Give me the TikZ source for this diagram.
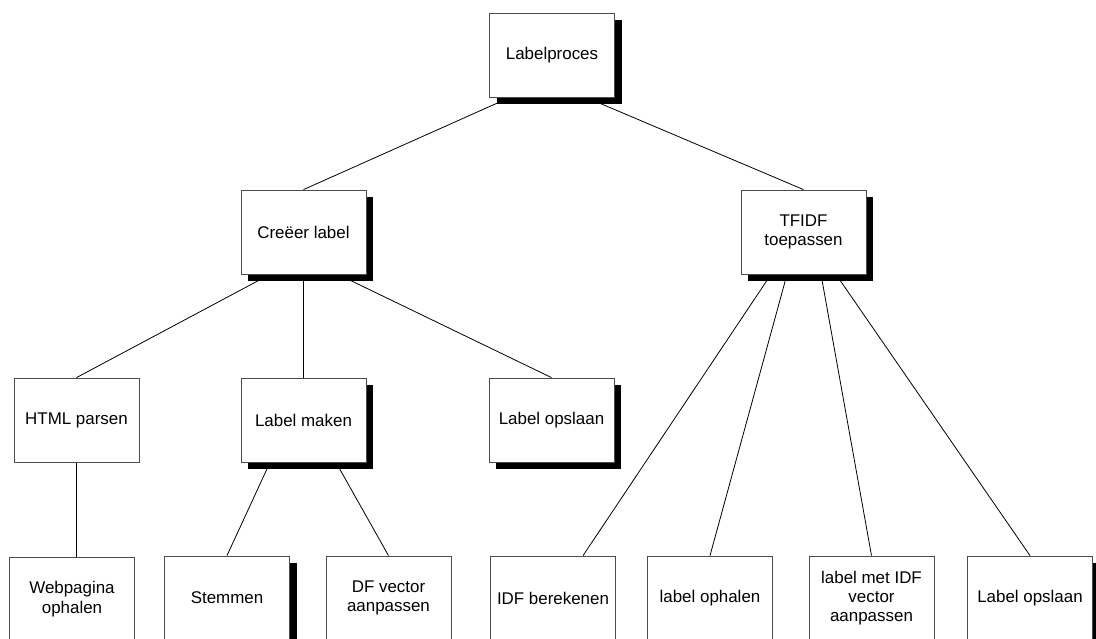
\documentclass[tikz,border=0pt]{standalone}
\usepackage{fontspec}
\setmainfont{Liberation Sans}
\usetikzlibrary{calc,shadows,backgrounds}

\begin{document}
\begin{tikzpicture}[x=0.75pt,y=-0.75pt,
  box/.style={draw=black!70, line width=0.6pt, fill=white,
    minimum width=93.75pt, minimum height=63pt, inner sep=2pt,
    align=center, font=\fontsize{12.7}{14.5}\selectfont},
  shadowed/.style={drop shadow={shadow xshift=5.25pt, shadow yshift=-5.25pt,
    fill=black, opacity=1}},
  link/.style={draw=black, line width=0.6pt}]
\useasboundingbox (0,0) rectangle (1096,639);
\clip (0,0) rectangle (1096,639);

% top level
\node[box,shadowed] (lp) at (552,55) {Labelproces};

% second level
\node[box,shadowed] (cl) at (303.5,232) {Creëer label};
\node[box,shadowed] (tf) at (803.5,232) {TFIDF\\toepassen};

% third level
\node[box] (html) at (76.5,420) {HTML parsen};
\node[box,shadowed] (lm) at (303.5,420) {Label maken};
\node[box,shadowed] (lo) at (551.5,420) {Label opslaan};

% leaves
\node[box] (wp) at (72,599) {Webpagina\\ophalen};
\node[box,shadowed] (st) at (227,598) {Stemmen};
\node[box] (df) at (388.5,598) {DF vector\\aanpassen};
\node[box] (idf) at (553,598) {IDF berekenen};
\node[box] (lop) at (710,598) {label ophalen};
\node[box] (lmi) at (871.5,598) {label met IDF\\vector\\aanpassen};
\node[box,shadowed] (lo2) at (1030,598) {Label opslaan};

% connectors, kept underneath boxes and shadows
\begin{pgfonlayer}{background}
  \draw[link] ($(lp.south)+(-42,0)$) -- (cl.north);
  \draw[link] ($(lp.south)+(34,0)$) -- (tf.north);

  \draw[link] ($(cl.south)+(-33.5,0)$) -- (html.north);
  \draw[link] (cl.south) -- (lm.north);
  \draw[link] ($(cl.south)+(34.5,0)$) -- (lo.north);

  \draw[link] (html.south) -- ($(wp.north)+(4.5,0)$);

  \draw[link] ($(lm.south)+(-33.5,0)$) -- (st.north);
  \draw[link] ($(lm.south)+(32.5,0)$) -- (df.north);

  \draw[link] ($(tf.south)+(-32.5,0)$) -- ($(idf.north)+(30,0)$);
  \draw[link] ($(tf.south)+(-16.5,0)$) -- (lop.north);
  \draw[link] ($(tf.south)+(17.5,0)$) -- (lmi.north);
  \draw[link] ($(tf.south)+(32.5,0)$) -- (lo2.north);
\end{pgfonlayer}
\end{tikzpicture}
\end{document}
